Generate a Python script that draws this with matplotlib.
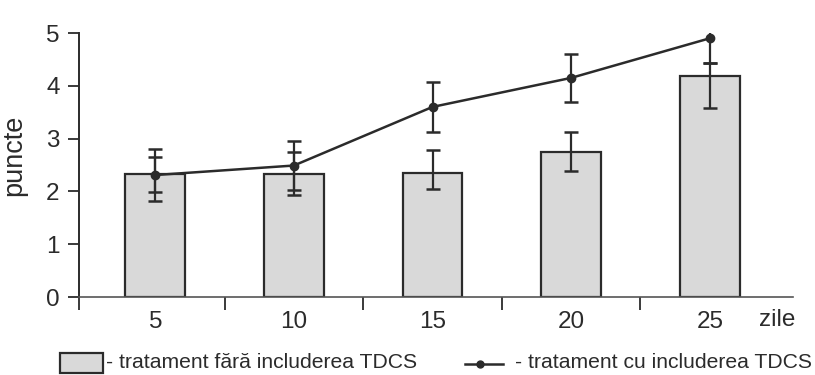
import matplotlib
matplotlib.use("Agg")
import matplotlib.pyplot as plt
from matplotlib.patches import Rectangle
from matplotlib.lines import Line2D

plt.rcParams['font.family'] = ['Liberation Sans', 'DejaVu Sans']

# Data
days = ["5", "10", "15", "20", "25"]
no_tdcs = [2.33, 2.33, 2.34, 2.75, 4.19]
no_tdcs_err_low = [0.34, 0.40, 0.30, 0.37, 0.61]
no_tdcs_err_high = [0.32, 0.41, 0.44, 0.37, 0.24]
with_tdcs = [2.31, 2.49, 3.60, 4.15, 4.90]
with_tdcs_err = [0.50, 0.47, 0.48, 0.46, 0.46]
y_ticks = [0, 1, 2, 3, 4, 5]

ink = "#2b2b2b"
fig = plt.figure(figsize=(8.15, 3.75), dpi=100)
ax = fig.add_axes([79 / 815, 78 / 375, 714 / 815, 264 / 375])

x = list(range(len(days)))
ax.bar(x, no_tdcs, width=0.43, color="#d9d9d9", edgecolor=ink, linewidth=1.6, zorder=2)
ax.errorbar(x, no_tdcs, yerr=[no_tdcs_err_low, no_tdcs_err_high], fmt="none", ecolor=ink,
            elinewidth=1.6, capsize=5, capthick=1.8, zorder=3)
ax.errorbar(x, with_tdcs, yerr=with_tdcs_err, fmt="-o", color=ink,
            lw=1.8, markersize=6, elinewidth=1.6, capsize=5, capthick=1.8, zorder=4)

ax.set_xlim(-0.55, 4.6)
ax.set_ylim(0, 5)
ax.set_yticks(y_ticks)
ax.set_xticks(x)
ax.set_xticklabels(days)
ax.set_xticks([-0.55, 0.5, 1.5, 2.5, 3.5], minor=True)
ax.tick_params(axis="x", which="major", length=0, labelsize=17.5, pad=10, colors=ink)
ax.tick_params(axis="x", which="minor", length=9, width=1.3, direction="out", color=ink)
ax.tick_params(axis="y", length=8, width=1.3, labelsize=17.5, pad=6, colors=ink)
for side in ("top", "right"):
    ax.spines[side].set_visible(False)
ax.spines["left"].set_color(ink)
ax.spines["left"].set_linewidth(1.4)
ax.spines["bottom"].set_color("#555555")
ax.spines["bottom"].set_linewidth(1.2)
ax.set_ylabel("puncte", fontsize=19.5, color=ink)
ax.yaxis.set_label_coords(-52 / 714, 0.535)

fig.text(777 / 815, 1 - 320 / 375, "zile", fontsize=17.5, color=ink, ha="center", va="center")

# Legend row
fig.patches.append(Rectangle((60 / 815, 1 - 373 / 375), 43 / 815, 20 / 375,
                             transform=fig.transFigure, facecolor="#d9d9d9",
                             edgecolor=ink, linewidth=1.6))
fig.text(106 / 815, 1 - 363 / 375, "- tratament fără includerea TDCS",
         fontsize=15.2, color=ink, va="center", ha="left")
fig.lines.append(Line2D([465 / 815, 503 / 815], [1 - 364 / 375] * 2, transform=fig.transFigure,
                        color=ink, lw=1.8))
fig.lines.append(Line2D([480 / 815], [1 - 364 / 375], transform=fig.transFigure,
                        color=ink, marker="o", markersize=5))
fig.text(515 / 815, 1 - 363 / 375, "- tratament cu includerea TDCS",
         fontsize=15.2, color=ink, va="center", ha="left")

fig.savefig("out.png", dpi=100, facecolor="white")
